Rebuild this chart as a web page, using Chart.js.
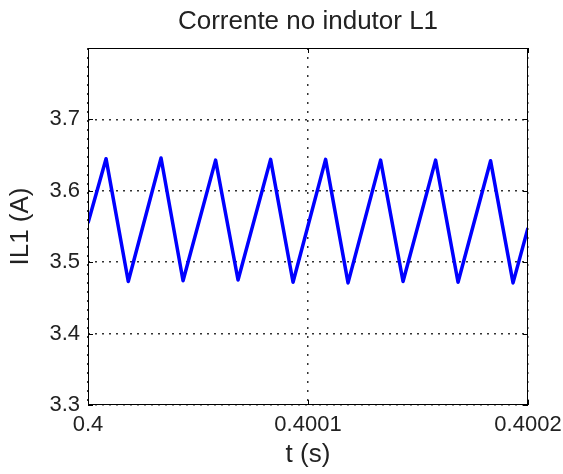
<!DOCTYPE html>
<html>
<head>
<meta charset="utf-8">
<script src="https://cdn.jsdelivr.net/npm/chart.js@4.4.0/dist/chart.umd.min.js"></script>
<style>
  html, body { margin: 0; padding: 0; background: #fff; }
  #wrap { width: 563px; height: 474px; }
</style>
</head>
<body>
<div id="wrap"><canvas id="chart" width="563" height="474"></canvas></div>
<script>
// Inductor current, corners of the triangle wave
const timeS = [0.4, 0.4000082, 0.4000183, 0.4000332, 0.4000432, 0.400058, 0.4000682,
  0.400083, 0.4000932, 0.400108, 0.4001182, 0.400133, 0.4001432, 0.400158,
  0.4001682, 0.400183, 0.4001932, 0.4002];
const currentA = [3.555, 3.645, 3.473, 3.646, 3.474, 3.643, 3.475, 3.644, 3.472,
  3.644, 3.471, 3.643, 3.473, 3.643, 3.472, 3.642, 3.471, 3.548];

const xTicks = [0.4, 0.4001, 0.4002];
const xTickLabels = ['0.4', '0.4001', '0.4002'];
const yTicks = [3.3, 3.4, 3.5, 3.6, 3.7];
const yTickLabels = ['3.3', '3.4', '3.5', '3.6', '3.7'];

const font = 'Liberation Sans, Arial, Helvetica, sans-serif';

// box around the plot + inner tick marks like matlab
const framePlugin = {
    id: 'frame',
    afterDraw(chart) {
        const { ctx, chartArea: a, scales } = chart;
        ctx.save();
        ctx.strokeStyle = '#000';
        ctx.lineWidth = 1;
        ctx.strokeRect(a.left + 0.5, a.top + 0.5, a.right - a.left - 1, a.bottom - a.top - 1);
        ctx.beginPath();
        xTicks.forEach(v => {
            const px = Math.round(scales.x.getPixelForValue(v)) + 0.5;
            ctx.moveTo(px, a.bottom); ctx.lineTo(px, a.bottom - 5);
            ctx.moveTo(px, a.top); ctx.lineTo(px, a.top + 5);
        });
        yTicks.forEach(v => {
            const py = Math.round(scales.y.getPixelForValue(v)) + 0.5;
            ctx.moveTo(a.left, py); ctx.lineTo(a.left + 5, py);
            ctx.moveTo(a.right, py); ctx.lineTo(a.right - 5, py);
        });
        ctx.stroke();
        ctx.restore();
    }
};

new Chart(document.getElementById('chart'), {
    type: 'line',
    data: {
        datasets: [{
            data: timeS.map((t, i) => ({ x: t, y: currentA[i] })),
            borderColor: '#0000ff',
            borderWidth: 3.5,
            pointRadius: 0,
            tension: 0,
            fill: false,
            borderJoinStyle: 'round'
        }]
    },
    options: {
        responsive: false,
        animation: false,
        layout: { padding: { left: 0, right: 35, top: 0, bottom: 0 } },
        plugins: {
            legend: { display: false },
            tooltip: { enabled: false },
            title: {
                display: true,
                fullSize: false,
                text: 'Corrente no indutor L1',
                color: '#222',
                font: { family: font, size: 26, weight: 'normal' },
                padding: { top: 6, bottom: 10.8 }
            }
        },
        scales: {
            x: {
                type: 'linear',
                min: 0.4,
                max: 0.4002,
                afterBuildTicks: s => { s.ticks = xTicks.map(v => ({ value: v })); },
                afterFit: s => { s.height = 69; s.paddingLeft = 0; s.paddingRight = 0; },
                ticks: {
                    color: '#222',
                    padding: 7,
                    maxRotation: 0,
                    font: { family: font, size: 22 },
                    callback: (v, i) => xTickLabels[i]
                },
                grid: {
                    color: '#333',
                    drawTicks: false,
                    lineWidth: 1.5
                },
                border: { display: false, dash: [2, 7] },
                title: {
                    display: true,
                    text: 't (s)',
                    color: '#222',
                    font: { family: font, size: 26 },
                    padding: { top: 0, bottom: 4 }
                }
            },
            y: {
                min: 3.3,
                max: 3.8,
                afterBuildTicks: s => { s.ticks = yTicks.map(v => ({ value: v })); },
                afterFit: s => { s.width = 88; s.paddingTop = 0; s.paddingBottom = 0; },
                ticks: {
                    color: '#222',
                    padding: 8,
                    font: { family: font, size: 22 },
                    callback: (v, i) => yTickLabels[i]
                },
                grid: {
                    color: '#333',
                    drawTicks: false,
                    lineWidth: 1.5
                },
                border: { display: false, dash: [2, 5] },
                title: {
                    display: true,
                    text: 'IL1 (A)',
                    color: '#222',
                    font: { family: font, size: 26 },
                    padding: { top: 5, bottom: 0 }
                }
            }
        }
    },
    plugins: [framePlugin]
});
</script>
</body>
</html>
